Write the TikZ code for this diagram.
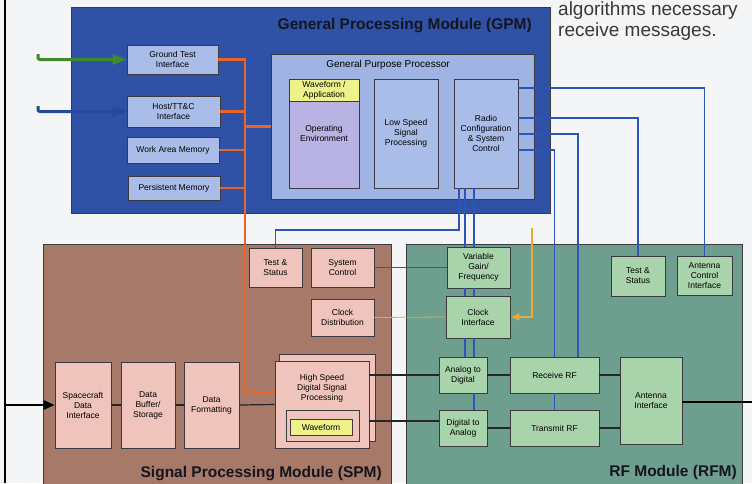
\documentclass[tikz,border=0pt]{standalone}
\usepackage{fontspec}
\setmainfont{Liberation Sans}
\usetikzlibrary{%
  arrows.meta,%
  calc%
}
\definecolor{bgwhite}{HTML}{F3F5F7}
\definecolor{gpmblue}{HTML}{2F52A6}
\definecolor{gpmnode}{HTML}{AABDE9}
\definecolor{gppblue}{HTML}{A0B4E4}
\definecolor{oplav}{HTML}{B8B3E3}
\definecolor{wfyellow}{HTML}{EDF28A}
\definecolor{spmbrown}{HTML}{A67968}
\definecolor{spmnode}{HTML}{EFC4BC}
\definecolor{rfmteal}{HTML}{6E9F8E}
\definecolor{rfmnode}{HTML}{A9D3AA}
\definecolor{busorange}{HTML}{E8652A}
\definecolor{ctrlblue}{HTML}{2B56B8}
\definecolor{clkamber}{HTML}{E8A83C}
\definecolor{gtgreen}{HTML}{3F8A2A}
\definecolor{hostblue}{HTML}{27479A}
\definecolor{titledark}{HTML}{15151F}
\definecolor{boxline}{HTML}{3A3A40}

\begin{document}
\begin{tikzpicture}[x=1pt,y=-1pt,
  box/.style={draw=boxline,line width=0.7pt,align=center,inner sep=1pt,
    font=\fontsize{8.5}{10}\selectfont},
  gbox/.style={box,fill=gpmnode},
  pbox/.style={box,fill=spmnode},
  rbox/.style={box,fill=rfmnode},
  modtitle/.style={font=\fontsize{15.5}{17}\selectfont\bfseries,text=titledark,inner sep=0pt},
  obus/.style={busorange,line width=2.4pt},
  bline/.style={ctrlblue,line width=1.2pt},
  kline/.style={black!85,line width=1.2pt}]
  \useasboundingbox (0,0) rectangle (752,483);
  \clip (0,0) rectangle (752,483);
  \fill[bgwhite] (0,0) rectangle (752,483);
  % slide text behind the diagram
  \node[anchor=base west,inner sep=0pt,text=black!78,font=\fontsize{19}{24}\selectfont]
    (slidea) at (558,15) {algorithms necessary};
  \node[anchor=base west,inner sep=0pt,text=black!78,font=\fontsize{19}{24}\selectfont]
    (slideb) at (558,36) {receive messages.};
  % modules
  \draw[boxline,line width=0.7pt,fill=gpmblue] (71,7) rectangle (550,213);
  \draw[boxline,line width=0.7pt,fill=spmbrown] (43,244) rectangle (391,490);
  \draw[boxline,line width=0.7pt,fill=rfmteal] (406,244) rectangle (742,490);
  \node[modtitle,anchor=base east] (gpmtitle) at (532,29) {General Processing Module (GPM)};
  \node[modtitle,anchor=base east] (spmtitle) at (382,477) {Signal Processing Module (SPM)};
  \node[modtitle,anchor=base east] (rfmtitle) at (737,476) {RF Module (RFM)};

  % GPM
  \node[gbox,minimum width=91,minimum height=29] (gti) at (172.5,59.5) {Ground Test\\Interface};
  \node[gbox,minimum width=93,minimum height=31] (hti) at (173.5,111.5) {Host/TT\&C\\Interface};
  \node[gbox,minimum width=92,minimum height=26] (wam) at (173,150) {Work Area Memory};
  \node[gbox,minimum width=92,minimum height=24] (pm) at (174,188) {Persistent Memory};
  \node[box,fill=gppblue,minimum width=263,minimum height=145] (gpp) at (402.5,126.5) {};
  \node[font=\fontsize{10}{12}\selectfont,inner sep=0pt] (gpptitle) at (388,65) {General Purpose Processor};
  \node[box,fill=oplav,minimum width=70,minimum height=109] (ope) at (324,133.5) {Operating\\Environment};
  \node[box,fill=wfyellow,minimum width=70,minimum height=22] (wfa) at (324,90) {Waveform /\\Application};
  \node[gbox,minimum width=64,minimum height=109] (lssp) at (406,133.5) {Low Speed\\Signal\\Processing};
  \node[gbox,minimum width=64,minimum height=109] (rcsc) at (486,133.5) {Radio\\Configuration\\\& System\\Control};

  % SPM
  \node[pbox,minimum width=53,minimum height=39] (tss) at (275.5,267.5) {Test \&\\Status};
  \node[pbox,minimum width=63,minimum height=39] (sc) at (342.5,267.5) {System\\Control};
  \node[pbox,minimum width=63,minimum height=37] (cd) at (342.5,317.5) {Clock\\Distribution};
  \node[pbox,minimum width=56,minimum height=86] (sdi) at (83,405) {Spacecraft\\Data\\Interface};
  \node[pbox,minimum width=54,minimum height=86] (dbs) at (148,405) {Data\\Buffer/\\Storage};
  \node[pbox,minimum width=55,minimum height=86] (df) at (211.5,405) {Data\\Formatting};
  \node[pbox,minimum width=96,minimum height=87] (hsdspback) at (327,397.5) {};
  \node[pbox,minimum width=94,minimum height=87] (hsdsp) at (322,404.5) {};
  \node[align=center,inner sep=0pt,font=\fontsize{8.5}{10}\selectfont] (hsdsptxt) at (322,388)
    {High Speed\\Digital Signal\\Processing};
  \node[pbox,minimum width=73,minimum height=31] (wfframe) at (322.5,425.5) {};
  \node[box,fill=wfyellow,minimum width=62,minimum height=16] (wf) at (321,427) {Waveform};

  % RFM
  \node[rbox,minimum width=63,minimum height=41] (vgf) at (478.5,267.5) {Variable\\Gain/\\Frequency};
  \node[rbox,minimum width=64,minimum height=42] (ci) at (478,317) {Clock\\Interface};
  \node[rbox,minimum width=48,minimum height=36] (adc) at (463,375) {Analog to\\Digital};
  \node[rbox,minimum width=48,minimum height=36] (dac) at (463,428) {Digital to\\Analog};
  \node[rbox,minimum width=89,minimum height=36] (rxrf) at (554.5,375) {Receive RF};
  \node[rbox,minimum width=89,minimum height=36] (txrf) at (554.5,428) {Transmit RF};
  \node[rbox,minimum width=62,minimum height=87] (ant) at (651,400.5) {Antenna\\Interface};
  \node[rbox,minimum width=54,minimum height=40] (tsr) at (638,276) {Test \&\\Status};
  \node[rbox,minimum width=55,minimum height=39] (aci) at (704.5,275.5) {Antenna\\Control\\Interface};

  % external inputs
  \coordinate (gtin) at (38,54);
  \coordinate (hostin) at (38,106);
  \coordinate (railtop) at (5,0);
  \coordinate (railbot) at (5,483);
  \coordinate (antout) at (752,402);
  \draw[gtgreen,line width=3pt,rounded corners=2pt,-{Triangle[length=14pt,width=10pt]}]
    (gtin) |- (gti.west);
  \draw[hostblue,line width=3pt,rounded corners=2pt,-{Triangle[length=14pt,width=10pt]}]
    (hostin) |- (hti.west);
  \draw[black,line width=2pt] (railtop) -- (railbot);
  \draw[black,line width=2.4pt,-{Triangle[length=11pt,width=9pt]}] (railtop |- sdi.west) -- (sdi.west);
  \draw[black,line width=2.4pt] (ant.east |- antout) -- (antout);

  % processor bus
  \coordinate (bus) at (245,0);
  \draw[obus] (gti.east) -- (gti.east -| bus) -- (bus |- 0,392) -- (hsdsp.west |- 0,392);
  \draw[obus] (hti.east) -- (hti.east -| bus);
  \draw[obus] (wam.east) -- (wam.east -| bus);
  \draw[obus] (pm.east) -- (pm.east -| bus);
  \draw[obus] (bus |- gpp.west) -- (gpp.west);

  % control lines
  \draw[bline] (rcsc.east |- 0,88) -| (aci.north);
  \draw[bline] (rcsc.east |- 0,118) -| (tsr.north);
  \draw[bline] (rcsc.east |- 0,134) -| (rxrf.north -| 578,0);
  \draw[bline] (rcsc.east |- 0,150) -| (rxrf.north);
  \draw[bline] (rxrf.south) -- (txrf.north);
  \draw[bline] (rcsc.south -| 459,0) -- (459,230) -| (tss.north);
  \foreach \xx in {465,474}{
    \draw[bline] (rcsc.south -| \xx,0) -- (vgf.north -| \xx,0);
    \draw[bline] (vgf.south -| \xx,0) -- (ci.north -| \xx,0);
    \draw[bline] (ci.south -| \xx,0) -- (adc.north -| \xx,0);
  }
  \draw[bline] (adc.south -| 474,0) -- (dac.north -| 474,0);
  \draw[bline] (sc.east) -- (vgf.west);

  % clocks
  \coordinate (clkin) at (532,228);
  \draw[clkamber,line width=1.6pt,-{Latex[length=9pt,width=8pt]}] (clkin) |- (ci.east);
  \draw[clkamber,line width=0.8pt] (cd.east) -- (ci.west);

  % data path
  \draw[kline] (sdi.east) -- (dbs.west);
  \draw[kline] (dbs.east) -- (df.west);
  \draw[kline] (df.east) -- (hsdsp.west);
  \draw[kline] (hsdsp.east |- adc.west) -- (adc.west);
  \draw[kline] (hsdsp.east |- 0,421) -- (dac.west |- 0,421);
  \draw[kline] (adc.east) -- (rxrf.west);
  \draw[kline] (dac.east) -- (txrf.west);
  \draw[kline] (rxrf.east) -- (rxrf.east -| ant.west);
  \draw[kline] (txrf.east) -- (txrf.east -| ant.west);
\end{tikzpicture}
\end{document}
